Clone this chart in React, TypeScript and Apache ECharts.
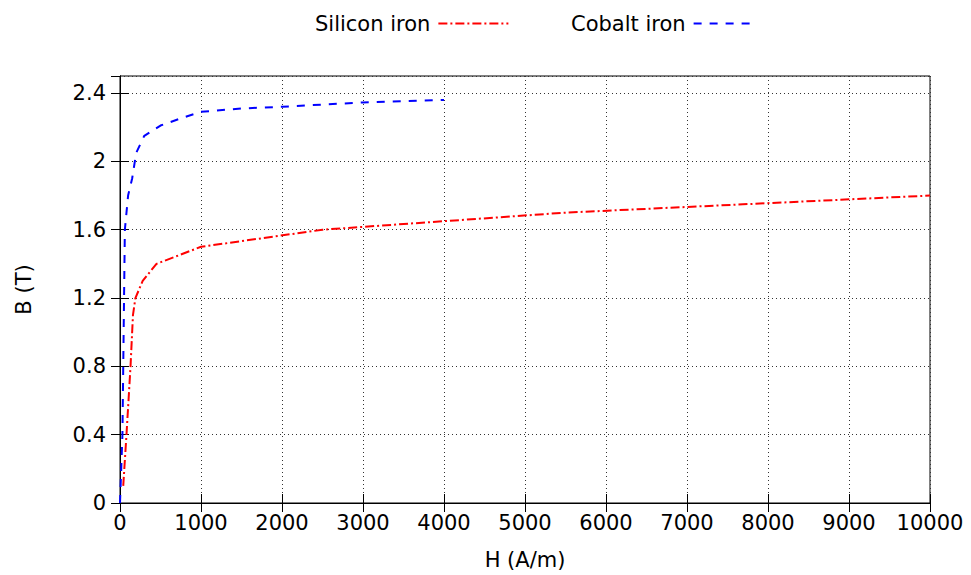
import React, { useEffect, useRef } from "react";
import * as echarts from "echarts";

// Magnetisation curves: field strength H (A/m) against flux density B (T)
const siliconH = [40, 80, 130, 160, 190, 280, 450, 1000, 2500, 5500, 10000];
const siliconB = [0.1, 0.4, 0.8, 1.1, 1.2, 1.3, 1.4, 1.5, 1.6, 1.7, 1.8];

const cobaltH = [0, 30, 40, 50, 60, 100, 150, 200, 300, 500, 800, 1000, 1500, 2000, 3000, 4000];
const cobaltB = [0, 0.4, 0.8, 1.2, 1.6, 1.8, 1.9, 2.05, 2.15, 2.21, 2.26, 2.29, 2.31, 2.32, 2.345, 2.36];

const xTicks = { min: 0, max: 10000, interval: 1000 };
const yTicks = { min: 0, max: 2.5, interval: 0.4 };

const FONT = "DejaVu Sans";
const FS = 21;

const pairs = (xs: number[], ys: number[]) => xs.map((x, i) => [x, ys[i]]);

export default function App() {
  const ref = useRef<HTMLDivElement>(null);

  useEffect(() => {
    if (!ref.current) return;
    const chart = echarts.init(ref.current, undefined, { renderer: "svg" });

    const tickStyle = { show: true, inside: true, length: 9, lineStyle: { color: "#000", width: 1 } };
    const gridLine = { show: true, lineStyle: { color: "#333", width: 1, type: [1, 3] as any } };
    const labelStyle = { color: "#000", fontFamily: FONT, fontSize: FS };
    const legendCommon = {
      top: 8,
      align: "right",
      itemHeight: 14,
      itemGap: 0,
      itemStyle: { opacity: 0 },
      textStyle: { color: "#000", fontFamily: FONT, fontSize: FS, padding: [0, 3, 0, 0] },
    };

    chart.setOption({
      animation: false,
      backgroundColor: "#fff",
      textStyle: { fontFamily: FONT },
      legend: [
        { ...legendCommon, data: ["Silicon iron"], left: 310, itemWidth: 70 },
        { ...legendCommon, data: ["Cobalt iron"], left: 566, itemWidth: 62 },
      ],
      grid: {
        left: 120,
        right: 41,
        top: 76,
        bottom: 72,
        show: true,
        borderColor: "#000",
        borderWidth: 1,
      },
      xAxis: [
        {
          type: "value",
          ...xTicks,
          name: "H (A/m)",
          nameLocation: "middle",
          nameGap: 46,
          nameTextStyle: labelStyle,
          axisLine: { show: true, lineStyle: { color: "#000" } },
          axisTick: tickStyle,
          axisLabel: { ...labelStyle, margin: 9, formatter: (v: number) => String(v) },
          splitLine: gridLine,
        },
        {
          type: "value",
          position: "top",
          ...xTicks,
          axisLine: { show: true, lineStyle: { color: "#000" } },
          axisTick: tickStyle,
          axisLabel: { show: false },
          splitLine: { show: false },
        },
      ],
      yAxis: [
        {
          type: "value",
          ...yTicks,
          name: "B (T)",
          nameLocation: "middle",
          nameGap: 86,
          nameTextStyle: labelStyle,
          axisLine: { show: true, lineStyle: { color: "#000" } },
          axisTick: tickStyle,
          axisLabel: { ...labelStyle, margin: 14, showMaxLabel: false },
          splitLine: gridLine,
        },
        {
          type: "value",
          position: "right",
          ...yTicks,
          axisLine: { show: true, lineStyle: { color: "#000" } },
          axisTick: tickStyle,
          axisLabel: { show: false },
          splitLine: { show: false },
        },
      ],
      series: [
        {
          name: "Silicon iron",
          type: "line",
          data: pairs(siliconH, siliconB),
          showSymbol: false,
          symbol: "none",
          color: "#ff0000",
          lineStyle: { color: "#ff0000", width: 2, type: [9, 3, 2, 3] },
        },
        {
          name: "Cobalt iron",
          type: "line",
          data: pairs(cobaltH, cobaltB),
          showSymbol: false,
          symbol: "none",
          color: "#0000ff",
          lineStyle: { color: "#0000ff", width: 2, type: [8, 8] },
        },
      ],
    });

    return () => chart.dispose();
  }, []);

  return (
    <div
      ref={ref}
      style={{ position: "fixed", left: 0, top: 0, width: 971, height: 575 }}
    />
  );
}
